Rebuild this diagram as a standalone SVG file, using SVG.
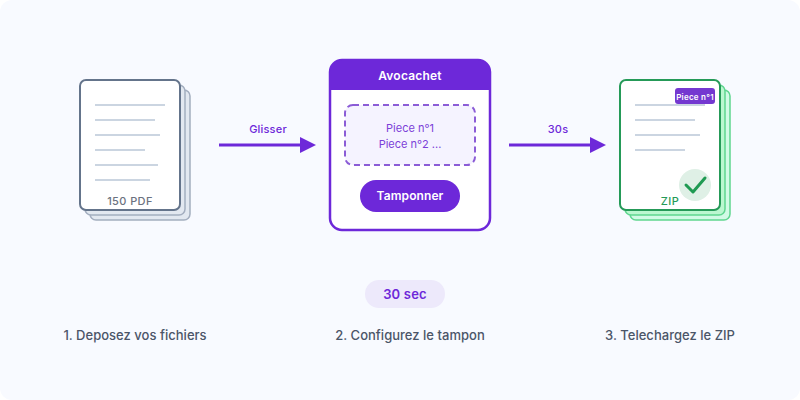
<svg xmlns="http://www.w3.org/2000/svg" width="800" height="400" viewBox="0 0 800 400">
<defs>
<style>
text{font-family:Inter,"Noto Sans","Liberation Sans",sans-serif;text-anchor:middle}
.ln{stroke:#cbd5e1;stroke-width:2;fill:none}
.b1{fill:#e2e8f0;stroke:#a3aebf;stroke-width:1.5}
.b2{fill:#e2e8f0;stroke:#a3aebf;stroke-width:1.5}
.g1{fill:#d1fae5;stroke:#5fd68f;stroke-width:1.5}
.g2{fill:#bbf7d0;stroke:#5fd68f;stroke-width:1.5}
.wire{stroke:#6d28d9;stroke-width:3;fill:none}
.head{fill:#6d28d9}
.cap{font-size:13px;font-weight:500;fill:#4b5568;letter-spacing:.02px}
.al{font-size:11px;font-weight:500;fill:#6d28d9;letter-spacing:.2px}
</style>
</defs>
<rect width="800" height="400" fill="#ffffff"/>
<rect width="800" height="400" rx="12" fill="#f8faff"/>
<g id="node-pdf">
<rect class="b1" x="90" y="90" width="100" height="130" rx="6"/>
<rect class="b2" x="85" y="85" width="100" height="130" rx="6"/>
<rect x="80" y="80" width="100" height="130" rx="6" fill="#fff" stroke="#64748b" stroke-width="2"/>
<path class="ln" d="M95 105H165M95 120H155M95 135H160M95 150H145M95 165H158M95 180H150"/>
<text x="130" y="205" font-size="11" font-weight="500" fill="#6b7280" letter-spacing=".4">150 PDF</text>
</g>
<g id="node-avocachet">
<rect x="330" y="60" width="160" height="170" rx="12" fill="#fff" stroke="#6d28d9" stroke-width="2.5"/>
<path d="M330 90V72a12 12 0 0 1 12-12H478a12 12 0 0 1 12 12V90Z" fill="#6d28d9"/>
<text x="410" y="80" font-size="12" font-weight="600" fill="#fff" letter-spacing=".2">Avocachet</text>
<rect x="345" y="105" width="130" height="60" rx="8" fill="#f5f3ff" stroke="#8b5cd6" stroke-width="2" stroke-dasharray="6 4"/>
<text x="410" y="132" font-size="11" fill="#7c3fd8">Piece n°1</text>
<text x="410" y="148" font-size="11" fill="#7c3fd8">Piece n°2 ...</text>
<rect x="360" y="180" width="100" height="32" rx="16" fill="#6d28d9"/>
<text x="410" y="200" font-size="12" font-weight="600" fill="#fff" letter-spacing=".1">Tamponner</text>
</g>
<g id="node-zip">
<rect class="g1" x="630" y="90" width="100" height="130" rx="6"/>
<rect class="g2" x="625" y="85" width="100" height="130" rx="6"/>
<rect x="620" y="80" width="100" height="130" rx="6" fill="#fff" stroke="#259a58" stroke-width="2"/>
<path class="ln" d="M635 105H705M635 120H695M635 135H700M635 150H685"/>
<rect x="675" y="88" width="40" height="16" rx="3" fill="#7438d0"/>
<text x="695" y="100" font-size="8" font-weight="600" fill="#fff" letter-spacing=".25">Piece n°1</text>
<circle cx="695" cy="185" r="16" fill="#dff0e6"/>
<path d="M686 185L693 192L705 178" fill="none" stroke="#1f9a52" stroke-width="3" stroke-linecap="round" stroke-linejoin="round"/>
<text x="670" y="205" font-size="11" font-weight="500" fill="#259a58" letter-spacing=".4">ZIP</text>
</g>
<g id="connectors">
<path class="wire" d="M219 145H302"/>
<path class="head" d="M300 137L316 145L300 153Z"/>
<text class="al" x="268" y="133">Glisser</text>
<path class="wire" d="M509 145H592"/>
<path class="head" d="M590 137L606 145L590 153Z"/>
<text class="al" x="558" y="133">30s</text>
</g>
<g id="node-time">
<rect x="365" y="280" width="80" height="28" rx="14" fill="#ede9fb"/>
<text x="405" y="299" font-size="13" font-weight="600" fill="#6d28d9" letter-spacing=".2">30 sec</text>
</g>
<g id="captions">
<text class="cap" x="135" y="340">1. Deposez vos fichiers</text>
<text class="cap" x="410" y="340">2. Configurez le tampon</text>
<text class="cap" x="670" y="340">3. Telechargez le ZIP</text>
</g>
</svg>
